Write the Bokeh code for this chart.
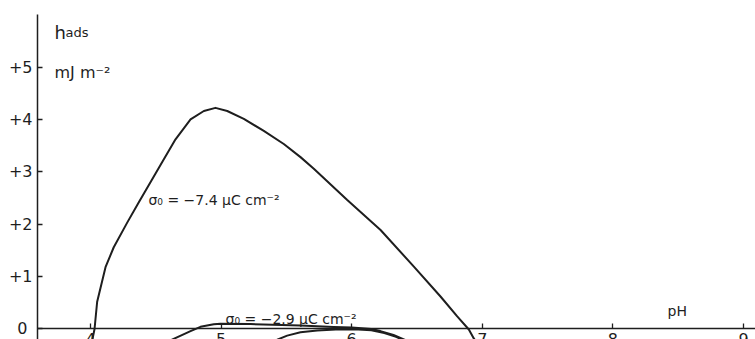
from bokeh.plotting import figure
from bokeh.models import FixedTicker, Range1d, Label
from bokeh.embed import file_html
from bokeh.resources import INLINE

# ---- data ----
# sigma0 = -7.4 uC cm-2
ph_a = [4.008, 4.013, 4.031, 4.051, 4.115, 4.178, 4.281, 4.370, 4.536, 4.651,
        4.766, 4.868, 4.957, 5.047, 5.174, 5.327, 5.480, 5.608, 5.710, 5.966,
        6.221, 6.476, 6.680, 6.808, 6.897, 6.935, 6.960]
h_a = [-0.30, -0.22, 0.00, 0.52, 1.18, 1.56, 2.03, 2.42, 3.13, 3.62,
       4.00, 4.16, 4.22, 4.16, 4.01, 3.78, 3.53, 3.28, 3.06, 2.46,
       1.89, 1.19, 0.62, 0.24, -0.01, -0.18, -0.27]

# sigma0 = -2.9 uC cm-2
ph_b = [4.613, 4.766, 4.842, 4.944, 4.995, 5.225, 5.608, 5.861, 6.000, 6.150,
        6.220, 6.320, 6.410]
h_b = [-0.216, -0.040, 0.042, 0.090, 0.100, 0.094, 0.067, 0.038, 0.028, 0.000,
       -0.040, -0.115, -0.210]

# lower (unlabelled) curve
ph_c = [5.400, 5.430, 5.506, 5.608, 5.736, 5.914, 6.050, 6.150, 6.250, 6.340, 6.420]
h_c = [-0.260, -0.204, -0.126, -0.061, -0.027, -0.006, -0.008, -0.025, -0.075, -0.150, -0.240]

x_ticks = [4, 5, 6, 7, 8, 9]
y_ticks = [0, 1, 2, 3, 4, 5]
y_tick_labels = ["0\u00a0", "+1", "+2", "+3", "+4", "+5"]

label_a = "\u03c3\u2080 = \u22127.4 \u03bcC cm\u207b\u00b2"
label_b = "\u03c3\u2080 = \u22122.9 \u03bcC cm\u207b\u00b2"

FONT = "DejaVu Sans"
INK = "#1e1e1e"

x0, x1 = 3.5942, 9.0919
y0, y1 = -0.2004, 6.2691

p = figure(width=755, height=339, x_range=Range1d(x0, x1), y_range=Range1d(y0, y1),
           output_backend="svg", toolbar_location=None,
           min_border_left=37, min_border_right=0, min_border_top=0, min_border_bottom=0)
p.outline_line_color = None
p.grid.visible = False
p.background_fill_color = "white"
p.border_fill_color = "white"

for ax in (p.xaxis[0], p.yaxis[0]):
    ax.axis_line_color = INK
    ax.axis_line_width = 1.5
    ax.major_tick_line_color = INK
    ax.major_tick_line_width = 1.3
    ax.major_tick_in = 5
    ax.major_tick_out = 0
    ax.minor_tick_in = 0
    ax.minor_tick_out = 0
    ax.major_label_text_font = FONT
    ax.major_label_text_font_size = "16px"
    ax.major_label_text_color = INK

p.xaxis.fixed_location = 0
p.xaxis.ticker = FixedTicker(ticks=x_ticks)
p.xaxis.major_label_standoff = 4

p.yaxis.ticker = FixedTicker(ticks=y_ticks)
p.yaxis.major_label_overrides = {t: s for t, s in zip(y_ticks, y_tick_labels)}
p.yaxis.major_label_standoff = 5
p.yaxis.bounds = (-0.5, 6.0)

for xs, ys in ((ph_a, h_a), (ph_b, h_b), (ph_c, h_c)):
    p.line(xs, ys, line_color=INK, line_width=2.0, line_join="round")

p.add_layout(Label(x=3.7244, y=5.658, text="h", text_font=FONT, text_font_size="18px",
                   text_color=INK, text_baseline="alphabetic"))
p.add_layout(Label(x=3.8086, y=5.658, text="ads", text_font=FONT, text_font_size="13px",
                   text_color=INK, text_baseline="alphabetic"))
p.add_layout(Label(x=3.7244, y=4.895, text="mJ m\u207b\u00b2", text_font=FONT,
                   text_font_size="16px", text_color=INK, text_baseline="alphabetic"))
p.add_layout(Label(x=4.444, y=2.471, text=label_a, text_font=FONT, text_font_size="14px",
                   text_color=INK, text_baseline="alphabetic"))
p.add_layout(Label(x=5.034, y=0.20, text=label_b, text_font=FONT, text_font_size="14px",
                   text_color=INK, text_baseline="alphabetic"))
p.add_layout(Label(x=8.418, y=0.353, text="pH", text_font=FONT, text_font_size="14px",
                   text_color=INK, text_baseline="alphabetic"))

open("out.html", "w", encoding="utf-8").write(file_html(p, INLINE))
